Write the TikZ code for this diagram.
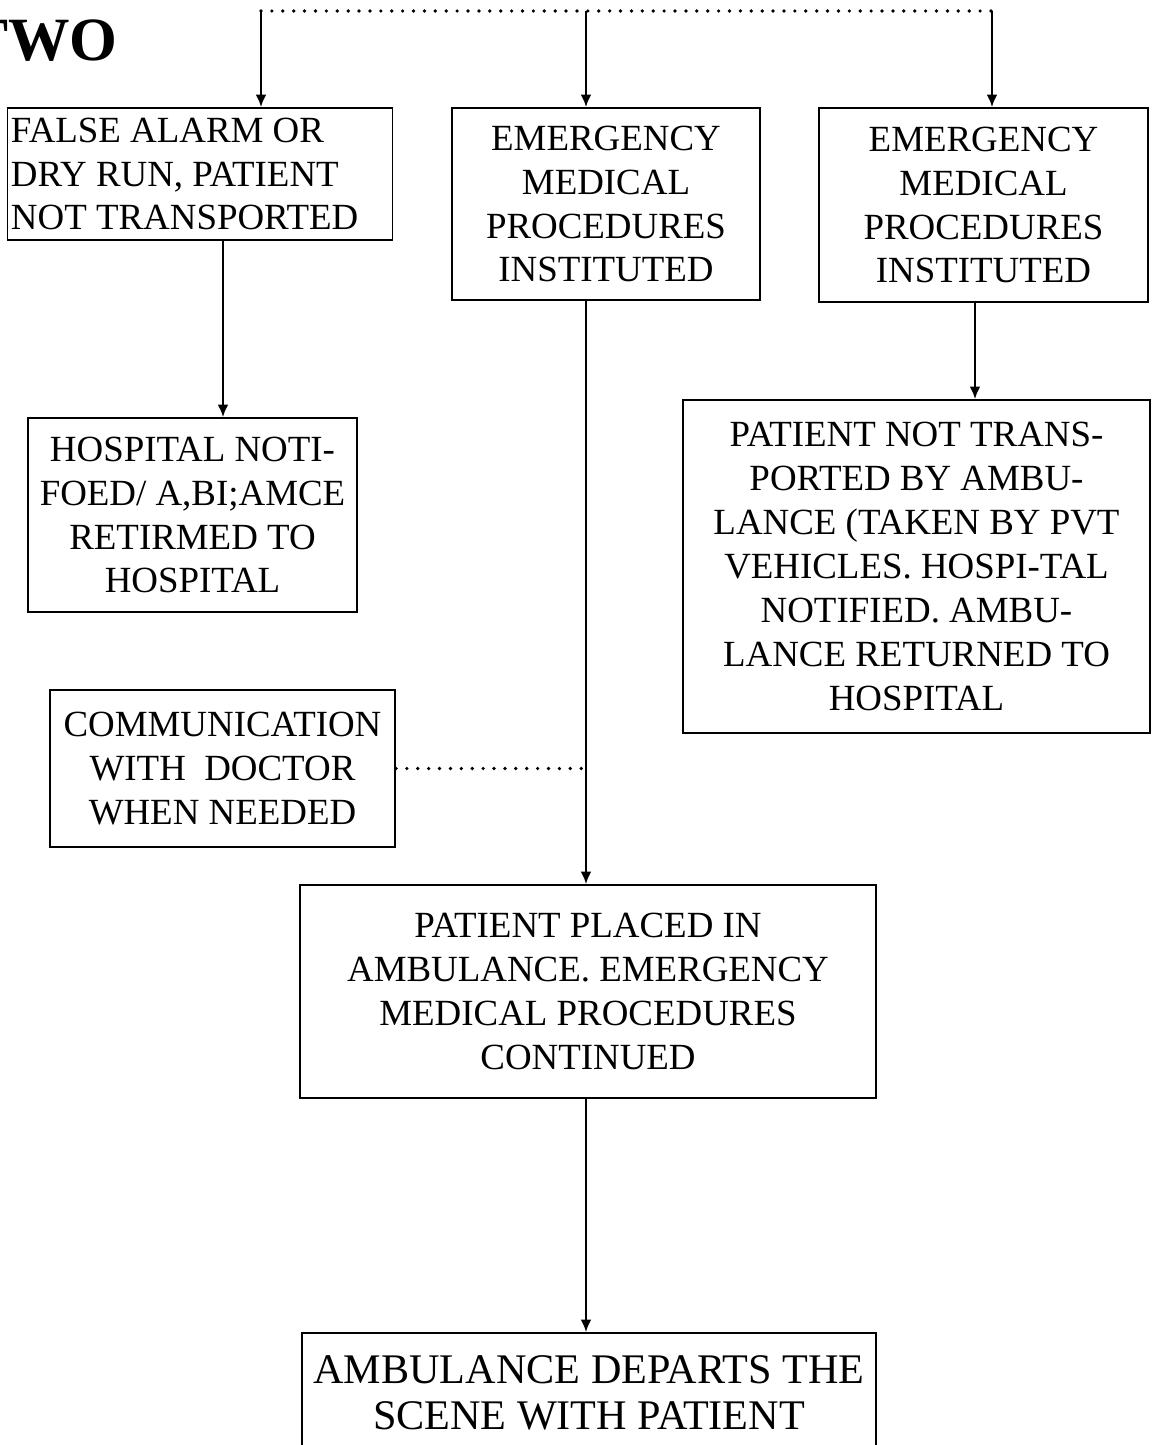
\documentclass[tikz,border=0pt]{standalone}
\usepackage{fontspec}
\setmainfont{Liberation Serif}
\usepackage{tikz}
\usetikzlibrary{positioning,arrows.meta}
\tikzstyle{stage} = [rectangle, draw=black, line width=1.1pt, inner sep=2pt, align=center, font=\fontsize{21}{25}\selectfont]
\tikzstyle{arrow} = [line width=1.1pt,->,>={Latex[length=7pt,width=6pt]}]
\tikzstyle{dotline} = [line width=2.1pt, line cap=round, dash pattern=on 0pt off 6.2pt]

\begin{document}
\begin{tikzpicture}

	\useasboundingbox (0,0) rectangle (23.04,-28.9);

	\node (chapter) [anchor=east, inner sep=0pt, font=\bfseries\fontsize{35}{35}\selectfont] at (2.36,-0.82) {TWO};

	\node (falsealarm) [stage, align=flush left, minimum width=7.68cm, minimum height=2.64cm, text width=7.56cm] at (4.0,-3.48) {FALSE ALARM OR\\DRY RUN, PATIENT\\NOT TRANSPORTED};
	\node (emerg) [stage, minimum width=6.16cm, minimum height=3.84cm] at (12.12,-4.08) {EMERGENCY\\MEDICAL\\PROCEDURES\\INSTITUTED};
	\node (emergb) [stage, minimum width=6.58cm, minimum height=3.88cm] at (19.67,-4.1) {EMERGENCY\\MEDICAL\\PROCEDURES\\INSTITUTED};
	\node (hospnote) [stage, minimum width=6.58cm, minimum height=3.88cm] at (3.85,-10.3) {HOSPITAL NOTI-\\FOED/ A,BI;AMCE\\RETIRMED TO\\HOSPITAL};
	\node (nottrans) [stage, minimum width=9.34cm, minimum height=6.66cm] at (18.33,-11.33) {PATIENT NOT TRANS-\\PORTED BY AMBU-\\LANCE (TAKEN BY PVT\\VEHICLES. HOSPI-TAL\\NOTIFIED. AMBU-\\LANCE RETURNED TO\\HOSPITAL};
	\node (comm) [stage, minimum width=6.9cm, minimum height=3.14cm] at (4.45,-15.37) {COMMUNICATION\\WITH\ \ DOCTOR\\WHEN NEEDED};
	\node (placed) [stage, minimum width=11.52cm, minimum height=4.26cm] at (11.76,-19.83) {PATIENT PLACED IN\\AMBULANCE. EMERGENCY\\MEDICAL PROCEDURES\\CONTINUED};
	\node (departs) [stage, font=\fontsize{24}{26}\selectfont, minimum width=11.48cm, minimum height=2.4cm] at (11.78,-27.86) {AMBULANCE DEPARTS THE\\SCENE WITH PATIENT};

	% branch points
	\coordinate (topl) at (5.22,-0.22);
	\coordinate (topm) at (11.72,-0.22);
	\coordinate (topr) at (19.84,-0.22);
	\coordinate (lx) at (4.46,0);
	\coordinate (rx) at (19.5,0);

	\draw [dotline] (topl) -- (topr);
	\draw [arrow] (topl) -- (topl |- falsealarm.north);
	\draw [arrow] (topm) -- (topm |- emerg.north);
	\draw [arrow] (topr) -- (topr |- emergb.north);

	\draw [arrow] (falsealarm.south -| lx) -- (hospnote.north -| lx);
	\draw [arrow] (emergb.south -| rx) -- (nottrans.north -| rx);
	\draw [arrow] (emerg.south -| topm) -- (placed.north -| topm);
	\draw [dotline] (comm.east) -- (comm.east -| topm);
	\draw [arrow] (placed.south -| topm) -- (departs.north -| topm);

\end{tikzpicture}
\end{document}
